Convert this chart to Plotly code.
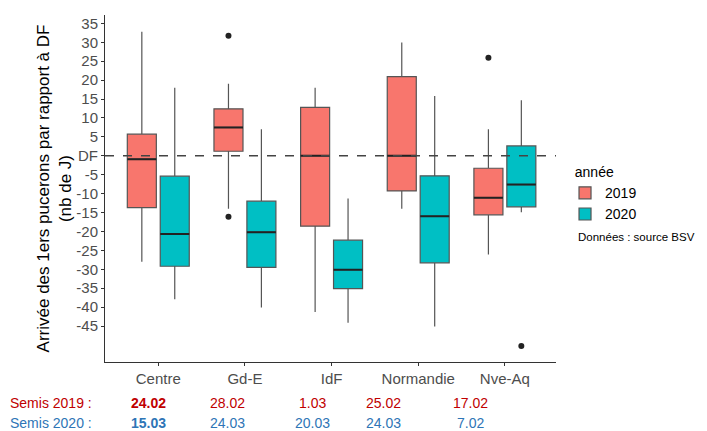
import plotly.graph_objects as go

regions = ["Centre", "Gd-E", "IdF", "Normandie", "Nve-Aq"]

# 2019 stats
q1_2019 = [-13.7, 1.2, -18.6, -9.3, -15.6]
med_2019 = [-0.9, 7.5, 0.0, 0.0, -11.1]
q3_2019 = [5.7, 12.4, 12.8, 20.9, -3.3]
lo_2019 = [-28.0, -14.0, -41.3, -14.0, -26.1]
hi_2019 = [32.8, 19.0, 18.0, 29.9, 7.0]
out_2019_region = [1, 1, 4]
out_2019_value = [31.7, -16.1, 25.9]

# 2020 stats
q1_2020 = [-29.2, -29.5, -35.1, -28.3, -13.5]
med_2020 = [-20.7, -20.2, -30.1, -16.0, -7.6]
q3_2020 = [-5.4, -12.0, -22.3, -5.3, 2.6]
lo_2020 = [-37.9, -40.1, -44.1, -45.1, -14.9]
hi_2020 = [18.0, 7.0, -11.3, 15.8, 14.7]
out_2020_region = [4]
out_2020_value = [-50.3]

ytick_vals = [35, 30, 25, 20, 15, 10, 5, 0, -5, -10, -15, -20, -25, -30, -35, -40, -45]
ytick_text = ["DF" if v == 0 else str(v) for v in ytick_vals]

semis_2019 = ["24.02", "28.02", "1.03", "25.02", "17.02"]
semis_2020 = ["15.03", "24.03", "20.03", "24.03", "7.02"]

OFF = 0.19
BW = 0.335
c2019 = "#F8766D"
c2020 = "#00BFC4"
lc = "#555555"

fig = go.Figure()
idx = list(range(len(regions)))
for name, sign, q1, med, q3, lo, hi, col in [
        ("2019", -1, q1_2019, med_2019, q3_2019, lo_2019, hi_2019, c2019),
        ("2020", 1, q1_2020, med_2020, q3_2020, lo_2020, hi_2020, c2020)]:
    xs = [i + sign * OFF for i in idx]
    fig.add_trace(go.Box(
        x=xs, q1=q1, median=med, q3=q3, lowerfence=lo, upperfence=hi, name=name,
        fillcolor=col, line=dict(color=lc, width=1.2), width=BW,
        whiskerwidth=0, boxpoints=False, legendgroup=name))
    # darker, thicker median bar
    fig.add_trace(go.Box(
        x=xs, q1=med, median=med, q3=med, lowerfence=med, upperfence=med,
        fillcolor="rgba(0,0,0,0)", line=dict(color="#222222", width=2), width=BW,
        whiskerwidth=0, boxpoints=False, showlegend=False, hoverinfo="skip",
        legendgroup=name))

fig.add_trace(go.Scatter(
    x=[r - OFF for r in out_2019_region], y=out_2019_value, mode="markers",
    marker=dict(color="#222222", size=6), showlegend=False, hoverinfo="y"))
fig.add_trace(go.Scatter(
    x=[r + OFF for r in out_2020_region], y=out_2020_value, mode="markers",
    marker=dict(color="#222222", size=6), showlegend=False, hoverinfo="y"))

fig.add_hline(y=0, line=dict(color="#444444", width=1.3, dash="dash"))

fig.update_layout(
    width=707, height=431,
    margin=dict(l=105, r=151, t=15, b=69),
    paper_bgcolor="white", plot_bgcolor="white",
    font=dict(family="Liberation Sans, Arial, sans-serif", color="#000000"),
    boxmode="overlay",
    showlegend=True,
    legend=dict(
        title=dict(text="&nbsp;&nbsp;année", font=dict(size=14, color="#000")),
        font=dict(size=14, color="#000"),
        x=1.02, xanchor="left", y=0.585, yanchor="top",
        tracegroupgap=0, itemwidth=30,
        bgcolor="rgba(0,0,0,0)"),
    xaxis=dict(
        range=[-0.615, 4.59], tickvals=idx, ticktext=regions,
        showgrid=False, zeroline=False, showline=True, linecolor="#333333",
        linewidth=1, ticks="outside", ticklen=3, tickcolor="#333333",
        tickfont=dict(size=15, color="#4d4d4d")),
    yaxis=dict(
        range=[-54.5, 37.2], tickvals=ytick_vals, ticktext=ytick_text,
        showgrid=False, zeroline=False, showline=True, linecolor="#333333",
        linewidth=1, ticks="outside", ticklen=3, tickcolor="#333333",
        tickfont=dict(size=15, color="#4d4d4d"),
        title=dict(text="Arrivée des 1ers pucerons par rapport à DF<br>(nb de J)",
                   font=dict(size=17, color="#000"), standoff=0)),
)

fig.add_annotation(text="Données : source BSV", xref="paper", yref="paper",
                   x=1.045, y=0.36, xanchor="left", yanchor="middle",
                   showarrow=False, font=dict(size=11.5, color="#000"))

# Semis text rows (pixel layout converted to paper coords)
def px_to_paper(px):
    return (px - 105) / 451.0

def py_to_paper(py):
    return 1 - (py - 15) / 346.7

sx = [148, 227, 312, 383, 470]
red = "#C00000"
blue = "#2E75B6"
fig.add_annotation(text="Semis 2019 :", xref="paper", yref="paper",
                   x=px_to_paper(8), y=py_to_paper(403), xanchor="left", yanchor="middle",
                   showarrow=False, font=dict(size=14, color=red))
fig.add_annotation(text="Semis 2020 : ", xref="paper", yref="paper",
                   x=px_to_paper(8), y=py_to_paper(423), xanchor="left", yanchor="middle",
                   showarrow=False, font=dict(size=14, color=blue))
for i, (a, b) in enumerate(zip(semis_2019, semis_2020)):
    ta = f"<b>{a}</b>" if i == 0 else a
    tb = f"<b>{b}</b>" if i == 0 else b
    fig.add_annotation(text=ta, xref="paper", yref="paper",
                       x=px_to_paper(sx[i]), y=py_to_paper(403), xanchor="center", yanchor="middle",
                       showarrow=False, font=dict(size=14, color=red))
    fig.add_annotation(text=tb, xref="paper", yref="paper",
                       x=px_to_paper(sx[i]), y=py_to_paper(423), xanchor="center", yanchor="middle",
                       showarrow=False, font=dict(size=14, color=blue))

fig.write_html("out.html", config={"displayModeBar": False},
               post_script="document.body.style.margin='0';document.body.style.padding='0';")
